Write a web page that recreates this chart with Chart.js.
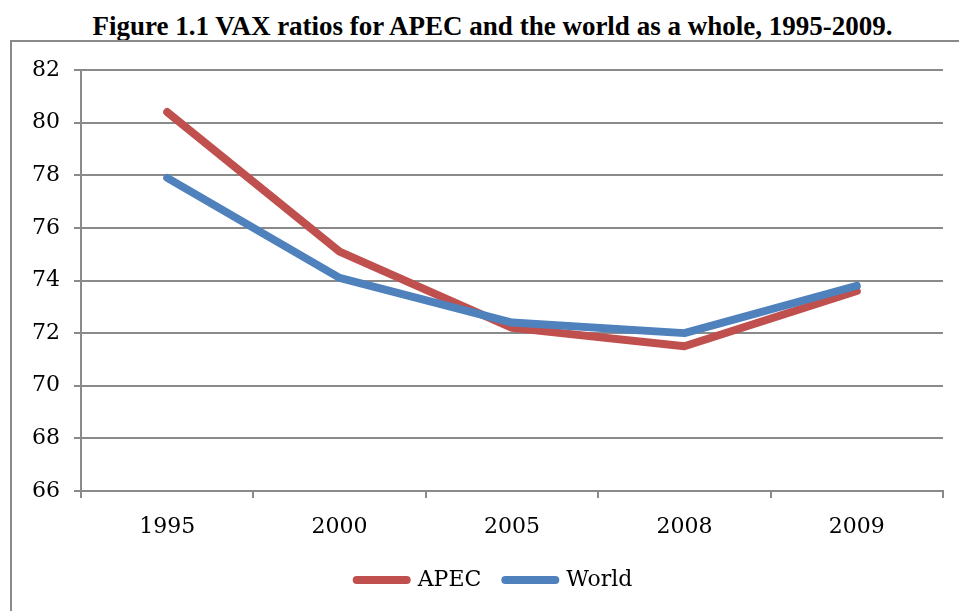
<!DOCTYPE html>
<html>
<head>
<meta charset="utf-8">
<script src="https://cdn.jsdelivr.net/npm/chart.js@4/dist/chart.umd.min.js"></script>
<style>
    body { margin: 0; background: #fff; width: 959px; height: 611px; overflow: hidden; position: relative; }
    #title { position: absolute; left: 0; top: 11px; width: 985px; text-align: center; font: bold 27px "Liberation Serif", serif; color: #000; }
    #box { position: absolute; left: 10px; top: 40px; width: 970px; height: 590px; border: 2px solid #8a8a8a; }
</style>
</head>
<body>
<div id="title">Figure 1.1 VAX ratios for APEC and the world as a whole, 1995-2009.</div>
<div id="box"><canvas id="chart" width="970" height="590"></canvas></div>
<script>
const years = ['1995', '2000', '2005', '2008', '2009'];
const apec = [80.4, 75.1, 72.2, 71.5, 73.6];
const world = [77.9, 74.1, 72.4, 72.0, 73.8];
const yMin = 66;
const yMax = 82;
const yStep = 2;

document.addEventListener('DOMContentLoaded', function() {
    const ctx = document.getElementById('chart').getContext('2d');
    const font = { family: '"DejaVu Serif", serif', size: 22 };
    const defaultLabels = Chart.defaults.plugins.legend.labels.generateLabels;

    new Chart(ctx, {
        type: 'line',
        data: {
            labels: years,
            datasets: [{
                label: 'APEC',
                data: apec,
                borderColor: '#c0504d',
                backgroundColor: '#c0504d',
                borderWidth: 8,
                borderCapStyle: 'round',
                borderJoinStyle: 'round',
                pointRadius: 0,
                order: 1
            }, {
                label: 'World',
                data: world,
                borderColor: '#4f81bd',
                backgroundColor: '#4f81bd',
                borderWidth: 8,
                borderCapStyle: 'round',
                borderJoinStyle: 'round',
                pointRadius: 0,
                order: 0
            }]
        },
        options: {
            responsive: false,
            animation: false,
            layout: { padding: { left: 0, right: 5, top: 28, bottom: 31 } },
            plugins: {
                tooltip: { enabled: false },
                legend: {
                    position: 'bottom',
                    labels: {
                        usePointStyle: true,
                        pointStyle: 'line',
                        pointStyleWidth: 50,
                        boxHeight: 8,
                        padding: 24,
                        color: '#000',
                        font: font,
                        sort: (a, b) => a.datasetIndex - b.datasetIndex,
                        generateLabels: function(chart) {
                            // round line ends like the original legend
                            return defaultLabels(chart).map(item => {
                                item.lineCap = 'round';
                                return item;
                            });
                        }
                    }
                }
            },
            scales: {
                x: {
                    offset: true,
                    grid: {
                        offset: true,
                        drawOnChartArea: false,
                        drawTicks: true,
                        tickLength: 7,
                        color: '#8a8a8a',
                        lineWidth: 2
                    },
                    border: { color: '#8a8a8a', width: 2 },
                    ticks: { color: '#000', font: font, padding: 16 },
                    afterFit: function(scale) { scale.height = 54; }
                },
                y: {
                    min: yMin,
                    max: yMax,
                    grid: {
                        color: '#8a8a8a',
                        lineWidth: 2,
                        tickLength: 7
                    },
                    border: { color: '#8a8a8a', width: 2 },
                    ticks: { stepSize: yStep, color: '#000', font: font, padding: 14 },
                    afterFit: function(scale) { scale.width = 69; }
                },
                // empty right axis only to keep the plot away from the right edge
                y2: {
                    position: 'right',
                    display: true,
                    grid: { display: false },
                    border: { display: false },
                    ticks: { display: false },
                    afterFit: function(scale) { scale.width = 34; }
                }
            }
        }
    });
});
</script>
</body>
</html>
